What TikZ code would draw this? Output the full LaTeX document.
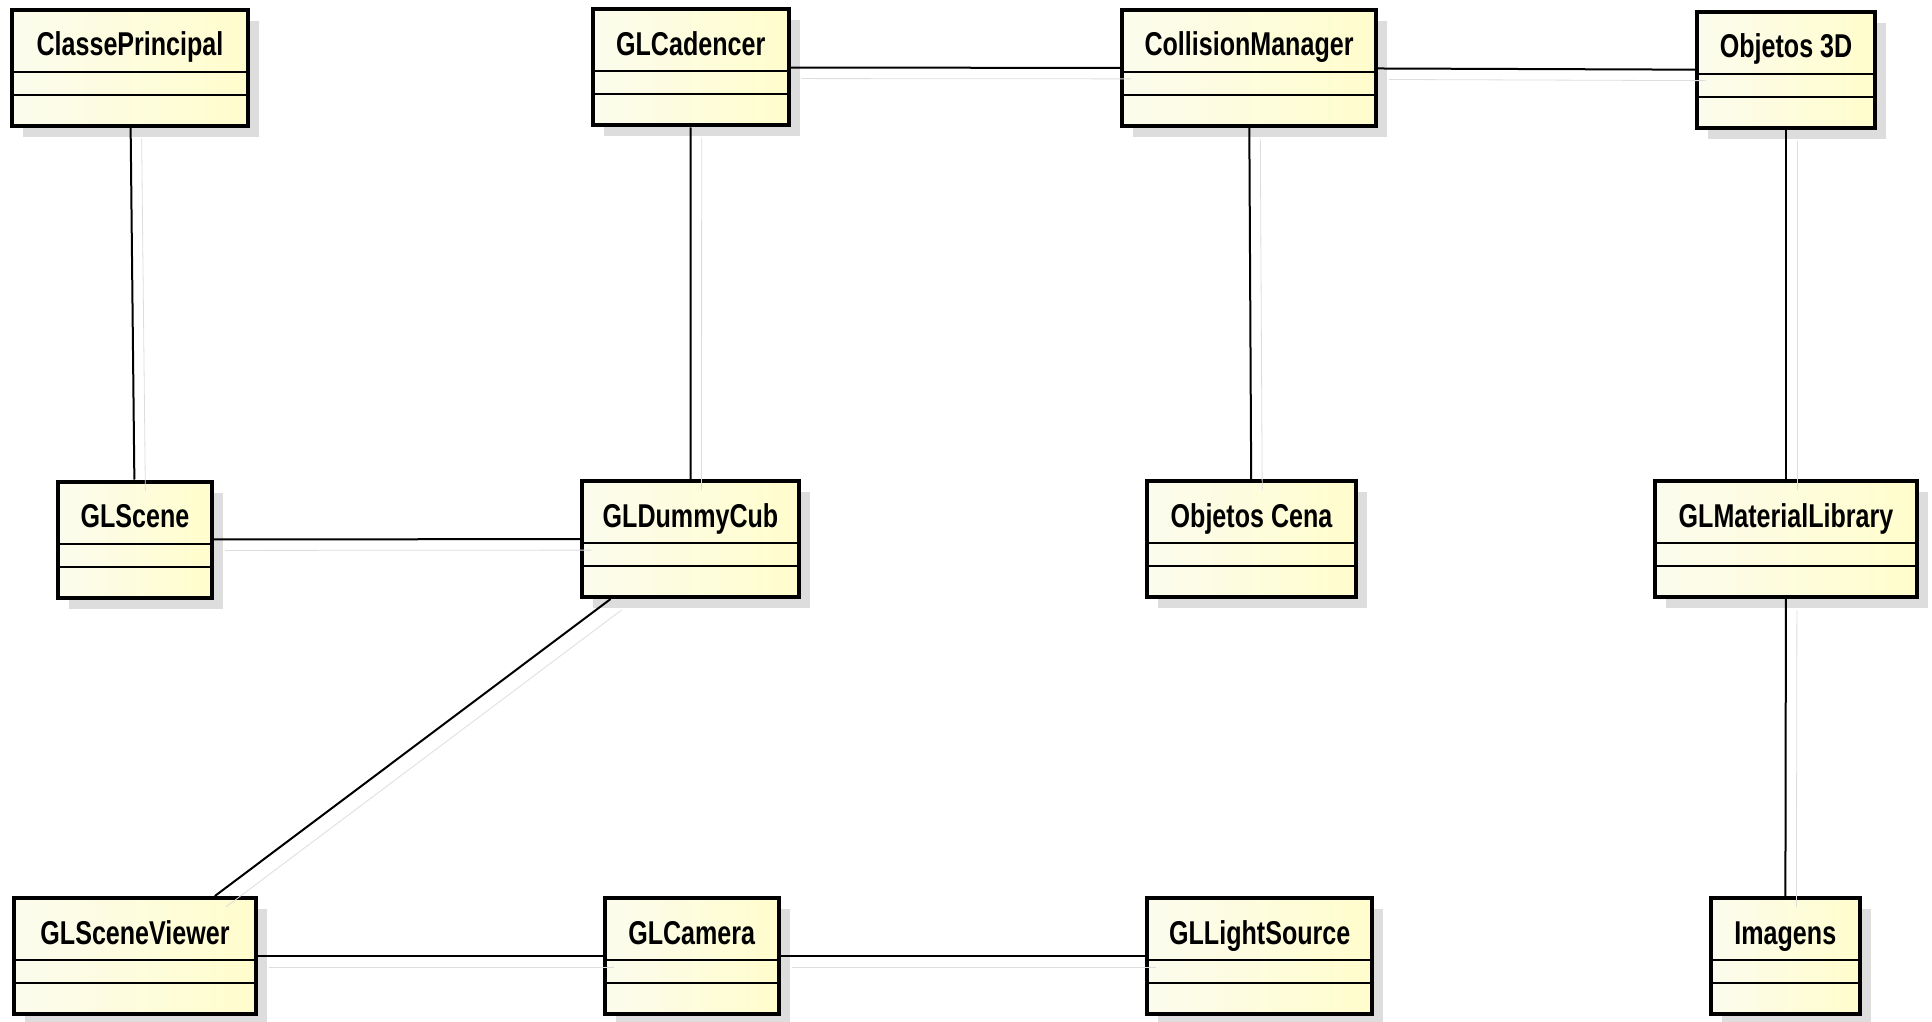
\documentclass[tikz,border=0pt]{standalone}
\usepackage{fontspec}
\newfontfamily\umlfont{Liberation Sans}[FakeStretch=0.76]
\usepackage{tikz}
\usetikzlibrary{shadows}

\definecolor{classleft}{RGB}{252,252,238}
\definecolor{classright}{RGB}{255,253,204}
\definecolor{shadowgray}{RGB}{221,221,221}

\begin{document}
\begin{tikzpicture}[x=0.5pt,y=-0.5pt,
    umlclass/.style={draw=black, line width=2pt, minimum height=58pt, inner sep=0pt,
        left color=classleft, right color=classright,
        text height=0pt, text depth=12pt,
        font=\umlfont\bfseries\fontsize{16.5}{18}\selectfont,
        drop shadow={shadow xshift=5.5pt, shadow yshift=-5.5pt, fill=shadowgray, opacity=1},
        path picture={
            \draw[line width=1pt] ([yshift=-31pt]path picture bounding box.north west) -- ([yshift=-31pt]path picture bounding box.north east);
            \draw[line width=1pt] ([yshift=-42.5pt]path picture bounding box.north west) -- ([yshift=-42.5pt]path picture bounding box.north east);
        }},
    assoc/.style={line width=1pt,
        preaction={draw=shadowgray, transform canvas={xshift=5.5pt, yshift=-5.5pt}}}]

    \useasboundingbox (0,0) rectangle (1932,1022);

    % Classes, top row
    \node[umlclass, minimum width=118pt] (cp) at (130,68) {ClassePrincipal};
    \node[umlclass, minimum width=98pt] (cad) at (690.7,67.5) {GLCadencer};
    \node[umlclass, minimum width=127pt] (col) at (1249,68) {CollisionManager};
    \node[umlclass, minimum width=89pt] (obj3d) at (1786,70) {Objetos 3D};

    % Middle row
    \node[umlclass, minimum width=77pt] (scene) at (135,539.5) {GLScene};
    \node[umlclass, minimum width=108.5pt] (dummy) at (690.5,539) {GLDummyCub};
    \node[umlclass, minimum width=104.5pt] (cena) at (1251.5,539) {Objetos Cena};
    \node[umlclass, minimum width=131pt] (matlib) at (1786,539) {GLMaterialLibrary};

    % Bottom row
    \node[umlclass, minimum width=121pt] (viewer) at (135,956) {GLSceneViewer};
    \node[umlclass, minimum width=87pt] (camera) at (691.7,956) {GLCamera};
    \node[umlclass, minimum width=112.5pt] (light) at (1259.7,956) {GLLightSource};
    \node[umlclass, minimum width=74.5pt] (img) at (1785.3,956) {Imagens};

    % Associations
    \draw[assoc] (cp) -- (scene);
    \draw[assoc] (cad) -- (col);
    \draw[assoc] (col) -- (obj3d);
    \draw[assoc] (cad) -- (dummy);
    \draw[assoc] (col) -- (cena);
    \draw[assoc] (obj3d) -- (matlib);
    \draw[assoc] (matlib) -- (img);
    \draw[assoc] (scene) -- (dummy);
    \draw[assoc] (dummy) -- (viewer);
    \draw[assoc] (viewer) -- (camera);
    \draw[assoc] (camera) -- (light);
\end{tikzpicture}
\end{document}
